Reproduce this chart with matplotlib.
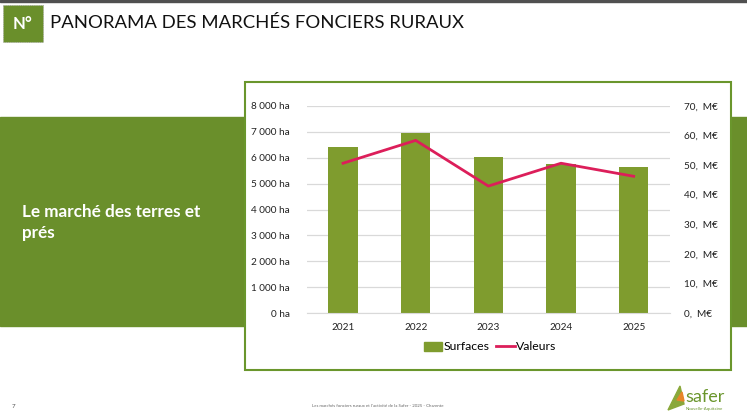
import matplotlib
matplotlib.use("Agg")
import matplotlib.pyplot as plt
from matplotlib.patches import Rectangle, Polygon
from matplotlib.lines import Line2D

years = ["2021", "2022", "2023", "2024", "2025"]
surfaces_ha = [6400, 6940, 6040, 5750, 5630]
valeurs_meur = [50.6, 58.3, 42.9, 50.6, 46.2]
left_ticks = [0, 1000, 2000, 3000, 4000, 5000, 6000, 7000, 8000]
left_labels = ["0 ha", "1 000 ha", "2 000 ha", "3 000 ha", "4 000 ha",
               "5 000 ha", "6 000 ha", "7 000 ha", "8 000 ha"]
right_ticks = [0, 10, 20, 30, 40, 50, 60, 70]
right_labels = ["0,  M€", "10,  M€", "20,  M€", "30,  M€", "40,  M€",
                "50,  M€", "60,  M€", "70,  M€"]

FONT = ["Lato", "DejaVu Sans"]
plt.rcParams['font.family'] = FONT

W, H = 747, 420
fig = plt.figure(figsize=(W / 100, H / 100), dpi=100)
fig.patch.set_facecolor("white")

GREEN = "#6a8f2b"
BAR = "#7f9c2e"
LINE = "#dc1e5a"

# background decorations (pixel coordinates)
bg = fig.add_axes([0, 0, 1, 1], zorder=0)
bg.set_xlim(0, W); bg.set_ylim(H, 0); bg.axis("off")
bg.add_patch(Rectangle((0, 0), W, 1.5, color="#505050"))
bg.add_patch(Rectangle((0, 117), W, 209, color=GREEN))
bg.add_patch(Rectangle((245, 82), 486, 288, facecolor="white", edgecolor="#6a962c", lw=1.5))
bg.add_patch(Rectangle((3, 5), 40, 37, facecolor=GREEN, edgecolor="#9a9a9a", lw=0.6, ls=":"))
bg.text(23, 24, "N°", color="white", fontsize=12, fontweight="bold", ha="center", va="center")
bg.text(50, 23, "PANORAMA DES MARCHÉS FONCIERS RURAUX", color="#111111", fontsize=13.3,
        ha="left", va="center")
bg.text(22, 212, "Le marché des terres et", color="white", fontsize=12.3, fontweight="bold",
        ha="left", va="center")
bg.text(22, 233, "prés", color="white", fontsize=12.3, fontweight="bold", ha="left", va="center")
bg.text(12, 406, "7", color="#555555", fontsize=4.5, ha="left", va="center")
bg.text(378, 406, "Les marchés fonciers ruraux et l'activité de la Safer - 2025 - Charente",
        color="#666666", fontsize=3.2, ha="center", va="center")
# logo
bg.add_patch(Polygon([(668, 410), (680, 386), (684, 404)], closed=True, color="#8aa83a"))
bg.add_patch(Polygon([(677, 400), (682, 392), (684, 401)], closed=True, color="#e8862a"))
bg.text(685, 397, "safer", color="#6a962c", fontsize=13, ha="left", va="center")
bg.text(686, 409, "Nouvelle-Aquitaine", color="#6a962c", fontsize=3.2, ha="left", va="center")

# chart
x0, x1 = 306.7, 670
y_top, y_bot = 105.7, 313.3
ax = fig.add_axes([x0 / W, 1 - y_bot / H, (x1 - x0) / W, (y_bot - y_top) / H], zorder=2)
ax.patch.set_alpha(0)
xs = list(range(len(years)))
ax.bar(xs, surfaces_ha, width=0.4, color=BAR, zorder=2)
ax.set_xlim(-0.5, len(years) - 0.5)
ax.set_ylim(0, 8000)
ax.set_yticks(left_ticks)
ax.set_yticklabels(left_labels)
ax.set_xticks(xs)
ax.set_xticklabels(years)
ax.grid(axis="y", color="#d9d9d9", lw=0.9, zorder=0)
ax.set_axisbelow(True)
for s in ["top", "right", "left"]:
    ax.spines[s].set_visible(False)
ax.spines["bottom"].set_color("#d9d9d9")
ax.tick_params(axis="both", length=0, labelsize=7.2, colors="#222222")
ax.tick_params(axis="y", pad=12)
ax.tick_params(axis="x", pad=7)

ax2 = ax.twinx()
ax2.plot(xs, valeurs_meur, color=LINE, lw=2, zorder=3)
ax2.set_ylim(0, 70)
ax2.set_yticks(right_ticks)
ax2.set_yticklabels(right_labels)
for s in ["top", "right", "left", "bottom"]:
    ax2.spines[s].set_visible(False)
ax2.tick_params(axis="y", length=0, labelsize=7.2, colors="#222222", pad=10)

handles = [Rectangle((0, 0), 1, 1, color=BAR), Line2D([], [], color=LINE, lw=2)]
fig.legend(handles, ["Surfaces", "Valeurs"], loc="center", bbox_to_anchor=(490 / W, 1 - 347 / H),
           ncol=2, frameon=False, fontsize=8.8, handlelength=1.5, handletextpad=0.1,
           columnspacing=0.6)

fig.savefig("out.png", dpi=100, facecolor="white")
